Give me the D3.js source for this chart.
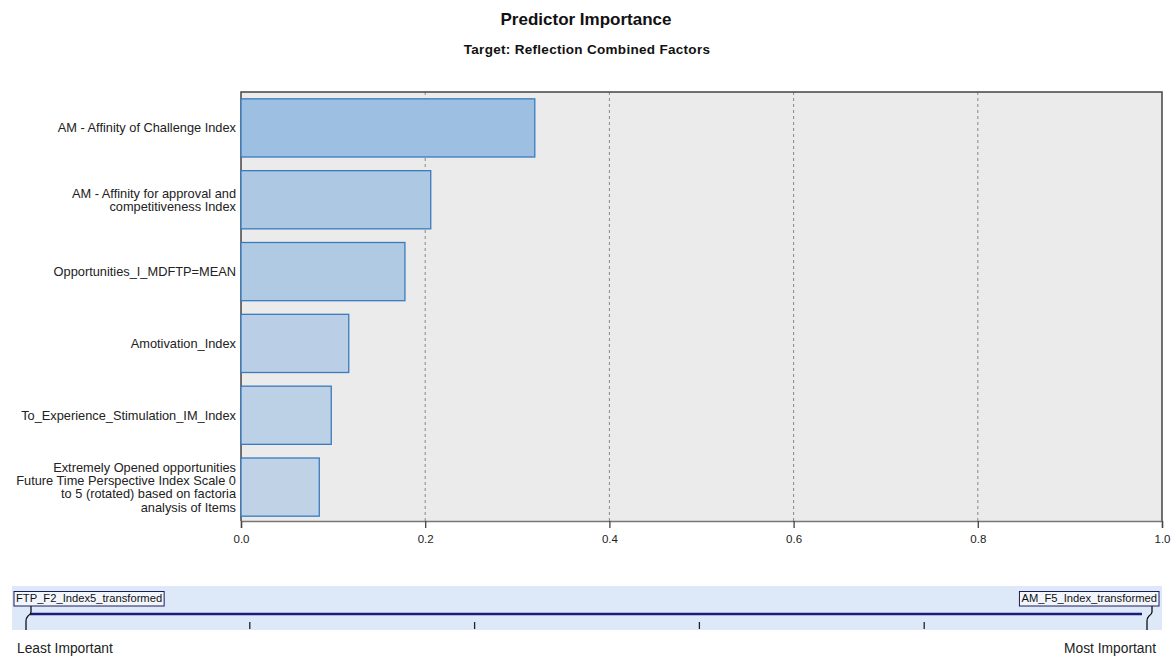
<!DOCTYPE html>
<html>
<head>
<meta charset="utf-8">
<script src="https://cdn.jsdelivr.net/npm/d3@7"></script>
<style>
  html, body { margin: 0; padding: 0; background: #fff; }
  svg { display: block; font-family: "Liberation Sans", Arial, sans-serif; }
</style>
</head>
<body>
<svg id="chart" width="1171" height="657"></svg>
<script>
// Predictor labels (multi-line labels split into lines)
const predictors = [
  ["AM - Affinity of Challenge Index"],
  ["AM - Affinity for approval and", "competitiveness Index"],
  ["Opportunities_I_MDFTP=MEAN"],
  ["Amotivation_Index"],
  ["To_Experience_Stimulation_IM_Index"],
  ["Extremely Opened opportunities", "Future Time Perspective Index Scale 0", "to 5 (rotated) based on factoria", "analysis of Items"]
];
const importance = [0.319, 0.206, 0.178, 0.117, 0.098, 0.085];
const xTicks = [0, 0.2, 0.4, 0.6, 0.8, 1.0];
const legendTicks = [0.2, 0.4, 0.6, 0.8];
const leastLabel = "FTP_F2_Index5_transformed";
const mostLabel = "AM_F5_Index_transformed";

const svg = d3.select("#chart");

// Titles
svg.append("text").attr("x", 586).attr("y", 25).attr("text-anchor", "middle")
  .attr("font-size", 17).attr("font-weight", "bold").attr("fill", "#111")
  .text("Predictor Importance");
svg.append("text").attr("x", 587).attr("y", 54).attr("text-anchor", "middle")
  .attr("font-size", 13.5).attr("font-weight", "bold").attr("fill", "#111")
  .attr("letter-spacing", 0.3)
  .text("Target: Reflection Combined Factors");

// Plot area
const plot = { left: 241, right: 1162, top: 92, bottom: 521 };
const x = d3.scaleLinear().domain([0, 1]).range([plot.left, plot.right]);
const y = d3.scaleBand().domain(d3.range(predictors.length))
  .range([plot.top, 523]).paddingInner(0.19).paddingOuter(0.095);
const color = d3.scaleLinear().domain([d3.min(importance), d3.max(importance)])
  .range(["#bfd2e6", "#9dbfe1"]);

svg.append("rect").attr("x", plot.left).attr("y", plot.top)
  .attr("width", plot.right - plot.left).attr("height", plot.bottom - plot.top)
  .attr("fill", "#ebebeb");

// Dashed gridlines
svg.append("g").selectAll("line").data(xTicks.filter(d => d > 0 && d < 1)).join("line")
  .attr("x1", d => x(d)).attr("x2", d => x(d))
  .attr("y1", plot.top).attr("y2", plot.bottom)
  .attr("stroke", "#888").attr("stroke-width", 1).attr("stroke-dasharray", "3,3");

// Frame: top, left, right
svg.append("path")
  .attr("d", `M${plot.left},${plot.bottom}V${plot.top}H${plot.right}V${plot.bottom}`)
  .attr("fill", "none").attr("stroke", "#444").attr("stroke-width", 1.5);

// Bars
svg.append("g").selectAll("rect").data(importance).join("rect")
  .attr("x", x(0)).attr("y", (d, i) => y(i))
  .attr("width", d => x(d) - x(0)).attr("height", y.bandwidth())
  .attr("fill", d => color(d)).attr("stroke", "#3a7bbf").attr("stroke-width", 1.3);

// X axis
const xAxis = svg.append("g").attr("transform", `translate(0,${plot.bottom})`)
  .call(d3.axisBottom(x).tickValues(xTicks).tickFormat(d3.format(".1f")).tickSize(7));
xAxis.select(".domain").attr("stroke", "#777").attr("stroke-width", 1.5);
xAxis.selectAll(".tick line").attr("stroke", "#444").attr("stroke-width", 1.3);
xAxis.selectAll(".tick text").attr("font-size", 11.5).attr("fill", "#222")
  .attr("font-family", "Liberation Sans, Arial, sans-serif").attr("dy", "1.0em");

// Y labels
const labels = svg.append("g");
predictors.forEach((lines, i) => {
  const cy = y(i) + y.bandwidth() / 2;
  const lh = 13.3;
  const t = labels.append("text").attr("text-anchor", "end")
    .attr("font-size", 12.8).attr("fill", "#222");
  lines.forEach((ln, j) => {
    t.append("tspan").attr("x", plot.left - 5)
      .attr("y", cy + (j - (lines.length - 1) / 2) * lh + 4.5).text(ln);
  });
});

// Importance legend strip
const lg = { left: 12, right: 1162, top: 586, bottom: 630 };
svg.append("rect").attr("x", lg.left).attr("y", lg.top)
  .attr("width", lg.right - lg.left).attr("height", lg.bottom - lg.top)
  .attr("fill", "#dde9f8");

const lx = d3.scaleLinear().domain([0, 1]).range([25, 1149]);
svg.append("line").attr("x1", 30).attr("x2", 1142).attr("y1", 614).attr("y2", 614)
  .attr("stroke", "#1c1c7a").attr("stroke-width", 2.5);
svg.append("g").selectAll("line").data(legendTicks).join("line")
  .attr("x1", d => lx(d)).attr("x2", d => lx(d)).attr("y1", 622).attr("y2", 629)
  .attr("stroke", "#222").attr("stroke-width", 1.3);

// Hooks connecting end labels to the scale
svg.append("path").attr("d", "M31,606 V612 Q31,614 28,616 Q26,618 26,621 V630")
  .attr("fill", "none").attr("stroke", "#111").attr("stroke-width", 1.3);
svg.append("path").attr("d", "M1152,606 V612 Q1152,614 1149,616 Q1147,618 1147,621 V630")
  .attr("fill", "none").attr("stroke", "#111").attr("stroke-width", 1.3);

function endLabel(txt, x0, anchor) {
  const t = svg.append("text").attr("y", 602).attr("font-size", 11.2)
    .attr("fill", "#111").attr("text-anchor", anchor).text(txt);
  t.attr("x", x0);
  const bb = t.node().getBBox();
  svg.insert("rect", () => t.node())
    .attr("x", bb.x - 2).attr("y", 591.5).attr("width", bb.width + 4).attr("height", 14.5)
    .attr("fill", "#f2f6fc").attr("stroke", "#1c1c5a").attr("stroke-width", 1);
}
endLabel(leastLabel, 16, "start");
endLabel(mostLabel, 1157, "end");

svg.append("text").attr("x", 17).attr("y", 653).attr("font-size", 13.8).attr("fill", "#222")
  .text("Least Important");
svg.append("text").attr("x", 1156).attr("y", 653).attr("font-size", 13.8).attr("fill", "#222")
  .attr("text-anchor", "end").text("Most Important");
</script>
</body>
</html>
